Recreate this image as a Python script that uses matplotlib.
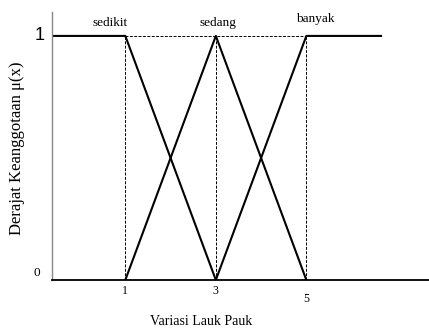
import matplotlib
matplotlib.use('Agg')
import matplotlib.pyplot as plt
from matplotlib import transforms

# membership functions (x, mu)
sedikit_x = [-0.62, 1, 3]
sedikit_y = [1, 1, 0]
sedang_x = [1, 3, 5]
sedang_y = [0, 1, 0]
banyak_x = [3, 5, 6.65]
banyak_y = [0, 1, 1]

set_names = ['sedikit', 'sedang', 'banyak']
set_pos = [0.67, 3.05, 5.2]
x_ticks = [1, 3, 5]
x_tick_labels = ['1', '3', '5']

plt.rcParams['font.family'] = ['Liberation Serif', 'DejaVu Serif']

fig = plt.figure(figsize=(4.29, 3.29), dpi=100)
ax = fig.add_axes([52/429, 49/329, 377/429, 268/329])
ax.set_xlim(-0.62, 7.71)
ax.set_ylim(0, 1.098)

ax.plot(sedikit_x, sedikit_y, color='black', lw=1.5)
ax.plot(sedang_x, sedang_y, color='black', lw=1.5)
ax.plot(banyak_x, banyak_y, color='black', lw=1.5)

# garis bantu putus-putus
ax.plot([x_ticks[0], x_ticks[-1]], [1, 1], color='black', lw=0.7, ls=(0, (3, 1.5)))
for xv in x_ticks:
    ax.plot([xv, xv], [0, 1], color='black', lw=0.7, ls=(0, (3, 1.5)))

for name, xp in zip(set_names, set_pos):
    ax.text(xp, 1.03 if name != 'banyak' else 1.045, name, ha='center', va='bottom', fontsize=9.5)

for sp in ['top', 'right']:
    ax.spines[sp].set_visible(False)
ax.spines['left'].set_color('#888888')
ax.spines['left'].set_linewidth(1.0)
ax.spines['bottom'].set_color('black')
ax.spines['bottom'].set_linewidth(1.3)

ax.set_xticks([])
ax.set_yticks([])
offsets = [0, 0, -6]
for xv, lab, off in zip(x_ticks, x_tick_labels, offsets):
    tr = transforms.offset_copy(ax.transData, fig=fig, x=0, y=off, units='points')
    ax.text(xv, -0.02, lab, transform=tr, ha='center', va='top', fontsize=8.5)

blend = transforms.blended_transform_factory(ax.transAxes, ax.transData)
ax.text(-12/377, 1.0, '1', transform=blend, ha='center', va='center', fontsize=13,
        family=['Liberation Sans'])
ax.text(-15/377, 0.03, '0', transform=blend, ha='center', va='center', fontsize=9.5)

ax.set_xlabel('Variasi Lauk Pauk', fontsize=10)
ax.xaxis.set_label_coords(149/377, -35/268)
ax.set_ylabel('Derajat Keanggotaan μ(x)', fontsize=12)
ax.yaxis.set_label_coords(-27/377, 0.49)

fig.savefig('out.png', dpi=100)
